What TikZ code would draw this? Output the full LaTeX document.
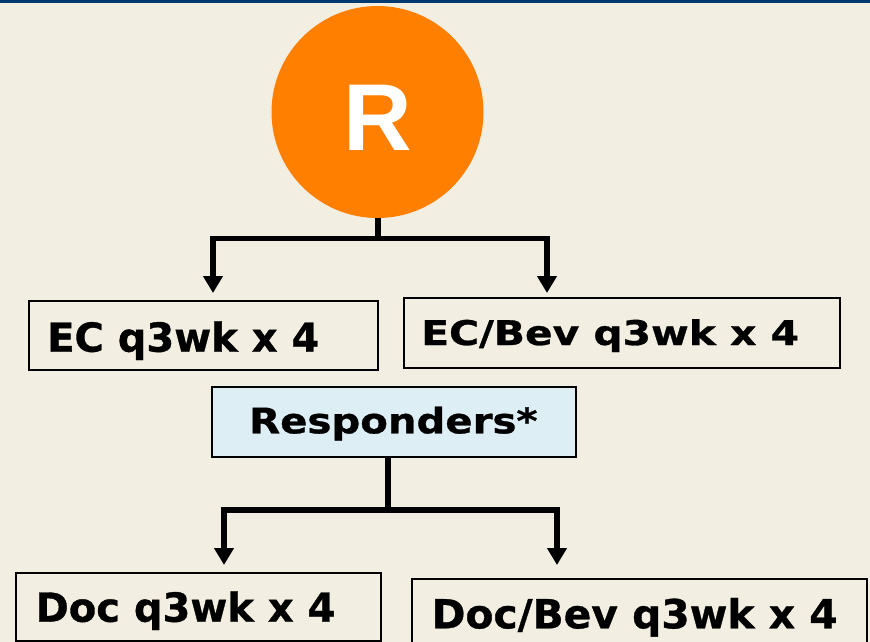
\documentclass[tikz,border=0pt]{standalone}
\usepackage{fontspec}
\usetikzlibrary{arrows.meta}
\newfontfamily\dvsans{DejaVu Sans Bold}[FakeBold=0.8]
\newfontfamily\libsans{Liberation Sans}
\definecolor{bgc}{HTML}{F2EEE1}
\definecolor{barc}{HTML}{003A70}
\definecolor{orc}{HTML}{FF7F00}
\definecolor{respc}{HTML}{DDEEF5}
\tikzset{
  box/.style={draw=black, line width=1.8pt, inner sep=0pt, minimum width=#1},
  boxtext/.style={anchor=base west, inner sep=0pt, text=black},
  conn/.style={line width=5.5pt, line join=miter},
  connarrow/.style={line width=5.5pt, line join=miter, -{Triangle[width=19pt,length=17pt]}}
}
\begin{document}
\begin{tikzpicture}[x=1pt,y=-1pt]
\useasboundingbox (0,0) rectangle (870,642);
\fill[bgc] (0,0) rectangle (870,642);
\clip (0,0) rectangle (870,642);
\fill[barc] (0,0) rectangle (870,3);
% circle R
\node[circle, fill=orc, minimum size=212pt, inner sep=0pt] (R) at (377.5,112) {};
\node[anchor=base, inner sep=0pt, text=white] (Rt) at (378,150.7) {\libsans\bfseries\fontsize{95}{100}\selectfont R};
% boxes
\node[box=349pt, minimum height=69pt] (ec) at (203.5,335.3) {};
\node[box=436pt, minimum height=70pt] (ecb) at (622,333) {};
\node[box=364pt, minimum height=70pt, fill=respc] (resp) at (394,422) {};
\node[box=365pt, minimum height=68pt] (doc) at (198.5,606.7) {};
\node[box=455pt, minimum height=67pt] (docb) at (639.5,612.5) {};
% texts
\node[boxtext] (ect) at (47,351.7) {\dvsans\fontsize{40}{48}\selectfont EC q3wk x 4};
\node[boxtext] (ecbt) at (421,345) {\scalebox{1.2}[1]{\dvsans\fontsize{34}{40}\selectfont EC/Bev q3wk x 4}};
\node[boxtext] (respt) at (249,433.3) {\scalebox{1.15}[1]{\dvsans\fontsize{35}{42}\selectfont Responders*}};
\node[boxtext] (doct) at (35.4,621.7) {\dvsans\fontsize{40}{48}\selectfont Doc q3wk x 4};
\node[boxtext] (docbt) at (431.4,628.3) {\scalebox{1.02}[1]{\dvsans\fontsize{40}{48}\selectfont Doc/Bev q3wk x 4}};
% connectors top
\coordinate (j1) at (378,238.5);
\coordinate (a1) at (213,293);
\coordinate (a2) at (547,293);
\draw[conn] (R.south -| j1) -- (j1);
\draw[connarrow] (j1) -| (a1);
\draw[connarrow] (j1) -| (a2);
% connectors bottom
\coordinate (j2) at (388,510);
\coordinate (b1) at (224,565);
\coordinate (b2) at (557,565);
\draw[conn] (resp.south -| j2) -- (j2);
\draw[connarrow] (j2) -| (b1);
\draw[connarrow] (j2) -| (b2);
\end{tikzpicture}
\end{document}
